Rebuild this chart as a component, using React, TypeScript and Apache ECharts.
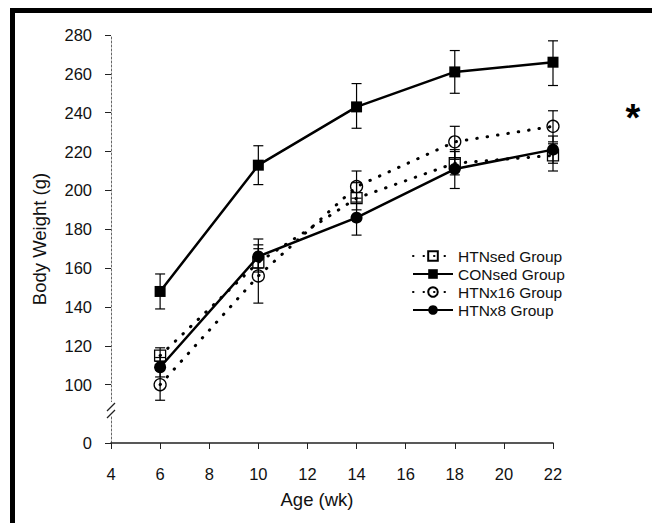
import React, { useEffect, useRef } from "react";
import * as echarts from "echarts";

const weeks = [6, 10, 14, 18, 22];
const seriesNames = ["HTNsed Group", "CONsed Group", "HTNx16 Group", "HTNx8 Group"];

const htnSed = [115, 163, 196, 214, 218];
const htnSedLow = [112, 158, 190, 208, 210];
const htnSedHigh = [119, 172, 204, 220, 224];

const conSed = [148, 213, 243, 261, 266];
const conSedLow = [139, 203, 232, 250, 254];
const conSedHigh = [157, 223, 255, 272, 277];

const htnX16 = [100, 156, 202, 225, 233];
const htnX16Low = [92, 142, 194, 216, 225];
const htnX16High = [108, 170, 210, 233, 241];

const htnX8 = [109, 166, 186, 211, 221];
const htnX8Low = [104, 160, 177, 201, 214];
const htnX8High = [114, 175, 196, 221, 228];

const xTicks = [4, 6, 8, 10, 12, 14, 16, 18, 20, 22];
const yTickValues = [70, 100, 120, 140, 160, 180, 200, 220, 240, 260, 280];
const breakValue = 70; // position where the broken axis shows "0"

const FONT = "Liberation Sans, Arial, Helvetica, sans-serif";

function lineData(vals: number[]) {
  return weeks.map((w, i) => [w, vals[i]]);
}
function errData(lo: number[], hi: number[]) {
  return weeks.map((w, i) => [w, lo[i], hi[i]]);
}

const errRender = (params: any, api: any) => {
  const x = api.value(0);
  const p1 = api.coord([x, api.value(1)]);
  const p2 = api.coord([x, api.value(2)]);
  const hw = 5;
  const st = { stroke: "#000", lineWidth: 1.2 };
  return {
    type: "group",
    children: [
      { type: "line", shape: { x1: p1[0], y1: p1[1], x2: p2[0], y2: p2[1] }, style: st },
      { type: "line", shape: { x1: p1[0] - hw, y1: p1[1], x2: p1[0] + hw, y2: p1[1] }, style: st },
      { type: "line", shape: { x1: p2[0] - hw, y1: p2[1], x2: p2[0] + hw, y2: p2[1] }, style: st },
    ],
  };
};

export default function App() {
  const ref = useRef<HTMLDivElement>(null);
  useEffect(() => {
    if (!ref.current) return;
    const chart = echarts.init(ref.current, null, { renderer: "svg" });
    const dotted = { color: "#000", width: 3, type: [0.5, 10] as any, cap: "round" as any };
    const solid = { color: "#000", width: 2.5, type: "solid" as any };
    const openStyle = { color: "rgba(255,255,255,0)", borderColor: "#000", borderWidth: 1.3 };
    const filledStyle = { color: "#000", borderColor: "#000", borderWidth: 0 };

    chart.setOption({
      animation: false,
      backgroundColor: "#fff",
      textStyle: { fontFamily: FONT },
      grid: { left: 111, right: 99, top: 35, bottom: 80, containLabel: false },
      legend: {
        orient: "vertical",
        left: 412,
        top: 248,
        padding: 0,
        itemWidth: 40,
        itemHeight: 12,
        itemGap: 2,
        data: seriesNames,
        textStyle: { fontFamily: FONT, fontSize: 15.5, color: "#111" },
      },
      xAxis: {
        type: "value",
        min: 4,
        max: 22,
        interval: 2,
        name: "Age (wk)",
        nameLocation: "middle",
        nameGap: 47,
        nameTextStyle: { fontFamily: FONT, fontSize: 18.5, color: "#111", padding: [0, 30, 0, 0] },
        axisLine: { show: true, lineStyle: { color: "#222", width: 1.6 } },
        axisTick: { show: true, inside: false, length: 6, lineStyle: { color: "#222", width: 1 } },
        axisLabel: { fontFamily: FONT, fontSize: 16.5, color: "#111", margin: 22, customValues: xTicks },
        splitLine: { show: false },
      },
      yAxis: {
        type: "value",
        min: breakValue,
        max: 280,
        name: "Body Weight (g)",
        nameLocation: "middle",
        nameGap: 62,
        nameTextStyle: { fontFamily: FONT, fontSize: 18.5, color: "#111" },
        axisLine: { show: true, lineStyle: { color: "#666", width: 1, type: [2, 2] } },
        axisTick: { show: true, inside: false, length: 6, customValues: yTickValues, lineStyle: { color: "#222", width: 1 } },
        axisLabel: {
          fontFamily: FONT,
          fontSize: 16.5,
          color: "#111",
          margin: 19,
          customValues: yTickValues,
          formatter: (v: number) => (v === breakValue ? "0" : String(v)),
        },
        splitLine: { show: false },
      },
      graphic: [
        { type: "rect", shape: { x: 10, y: 8, width: 642, height: 5 }, style: { fill: "#000" } },
        { type: "rect", shape: { x: 10, y: 8, width: 5, height: 515 }, style: { fill: "#000" } },
        { type: "rect", shape: { x: 108, y: 402, width: 6, height: 14 }, style: { fill: "#fff" }, z: 50 },
        { type: "line", shape: { x1: 107, y1: 411, x2: 115, y2: 403 }, style: { stroke: "#222", lineWidth: 1.2 }, z: 51 },
        { type: "line", shape: { x1: 107, y1: 418, x2: 115, y2: 410 }, style: { stroke: "#222", lineWidth: 1.2 }, z: 51 },
        {
          type: "text",
          x: 633,
          y: 118,
          style: { text: "*", font: "bold 38px " + FONT, fill: "#000", textAlign: "center", textVerticalAlign: "middle" },
        },
      ],
      series: [
        { type: "custom", name: "err0", renderItem: errRender, data: errData(htnSedLow, htnSedHigh), z: 1, encode: { x: 0, y: [1, 2] } },
        { type: "custom", name: "err1", renderItem: errRender, data: errData(conSedLow, conSedHigh), z: 1, encode: { x: 0, y: [1, 2] } },
        { type: "custom", name: "err2", renderItem: errRender, data: errData(htnX16Low, htnX16High), z: 1, encode: { x: 0, y: [1, 2] } },
        { type: "custom", name: "err3", renderItem: errRender, data: errData(htnX8Low, htnX8High), z: 1, encode: { x: 0, y: [1, 2] } },
        {
          type: "line",
          name: seriesNames[0],
          data: lineData(htnSed),
          symbol: "rect",
          symbolSize: 11,
          lineStyle: dotted,
          itemStyle: openStyle,
          z: 3,
        },
        {
          type: "line",
          name: seriesNames[1],
          data: lineData(conSed),
          symbol: "rect",
          symbolSize: 11,
          lineStyle: solid,
          itemStyle: filledStyle,
          z: 3,
        },
        {
          type: "line",
          name: seriesNames[2],
          data: lineData(htnX16),
          symbol: "circle",
          symbolSize: 12,
          lineStyle: dotted,
          itemStyle: openStyle,
          z: 3,
        },
        {
          type: "line",
          name: seriesNames[3],
          data: lineData(htnX8),
          symbol: "circle",
          symbolSize: 12,
          lineStyle: solid,
          itemStyle: filledStyle,
          z: 3,
        },
      ],
    });
    return () => chart.dispose();
  }, []);
  return (
    <div
      ref={ref}
      style={{ position: "fixed", left: 0, top: 0, width: 652, height: 523, background: "#fff" }}
    />
  );
}
